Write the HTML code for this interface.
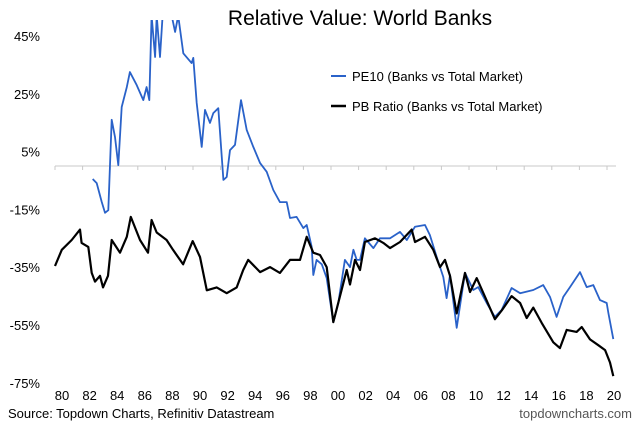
<!DOCTYPE html>
<html><head><meta charset="utf-8">
<style>
body{margin:0;background:#fff;}
svg{display:block;font-family:"Liberation Sans",Arial,sans-serif;}
</style></head>
<body>
<svg id="chart" width="640" height="433" viewBox="0 0 640 433">
  <defs><clipPath id="plotclip"><rect x="40" y="20" width="600" height="380"/></clipPath></defs>
  <text x="360" y="25" text-anchor="middle" font-size="21" fill="#000">Relative Value: World Banks</text>
  <g id="yaxis"></g>
  <g id="xaxis"></g>
  <g id="series" clip-path="url(#plotclip)"></g>
  <g>
    <g>
      <line x1="331" y1="76" x2="346" y2="76" stroke="#2a62c9" stroke-width="2"/>
      <text x="352" y="81" font-size="13" fill="#000">PE10 (Banks vs Total Market)</text>
    </g>
    <g>
      <line x1="331" y1="106" x2="346" y2="106" stroke="#000" stroke-width="2.5"/>
      <text x="352" y="111" font-size="13" fill="#000">PB Ratio (Banks vs Total Market)</text>
    </g>
  </g>
  <text x="8" y="418" font-size="13" fill="#000">Source: Topdown Charts, Refinitiv Datastream</text>
  <text x="632" y="418" text-anchor="end" font-size="13" fill="#555">topdowncharts.com</text>
</svg>
<script>
const yTicks = [45, 25, 5, -15, -35, -55, -75];
const xTickYears = [1980,1982,1984,1986,1988,1990,1992,1994,1996,1998,2000,2002,2004,2006,2008,2010,2012,2014,2016,2018,2020];
const xTickLabels = ["80","82","84","86","88","90","92","94","96","98","00","02","04","06","08","10","12","14","16","18","20"];

const pbYears = [1980.0,1980.49,1981.21,1981.81,1981.93,1982.41,1982.66,1982.9,1983.26,1983.48,1983.84,1984.11,1984.71,1985.2,1985.49,1986.16,1986.74,1987.0,1987.37,1988.09,1988.55,1989.28,1989.98,1990.51,1991.0,1991.72,1992.44,1993.17,1993.64,1994.0,1994.86,1995.58,1996.3,1997.03,1997.75,1998.24,1998.72,1999.2,1999.69,2000.17,2000.89,2001.14,2001.38,2001.74,2002.1,2002.46,2003.19,2003.79,2004.28,2005.0,2005.85,2006.09,2006.81,2007.41,2007.9,2008.26,2008.62,2009.11,2009.71,2010.07,2010.56,2011.04,2011.88,2012.37,2013.09,2013.7,2014.18,2014.66,2015.27,2016.11,2016.59,2017.08,2017.8,2018.17,2018.77,2019.37,2019.86,2020.22,2020.46];
const pbValues = [-34.6,-29,-25.6,-22,-26.6,-28,-37,-40,-38,-42,-38,-25.6,-30,-24.5,-17.6,-25.6,-30,-18.7,-23,-25.6,-29,-34,-26,-31.5,-43,-42,-44,-42,-36,-32.5,-36.7,-35,-37,-32.5,-32.5,-24.5,-30,-30.8,-35,-54,-40.6,-36,-41,-32.5,-36,-26.3,-25,-26.6,-28.4,-26.3,-22,-26.3,-24.5,-29,-35,-32.5,-38,-51,-37,-43.6,-38.8,-44,-53,-50,-45,-47.4,-52.6,-49,-54.3,-61,-63,-56.7,-57.4,-55.7,-60,-62,-63.7,-68,-72.7];

const peYears = [1982.73,1983.02,1983.38,1983.62,1983.86,1984.11,1984.35,1984.59,1984.83,1985.2,1985.43,1985.92,1986.4,1986.64,1986.83,1987.0,1987.25,1987.37,1987.61,1987.8,1988.46,1988.7,1988.93,1989.3,1989.9,1990.02,1990.27,1990.63,1990.87,1991.23,1991.47,1991.83,1992.2,1992.44,1992.68,1993.04,1993.48,1993.89,1994.37,1994.86,1995.34,1995.82,1996.3,1996.79,1997.03,1997.51,1997.99,1998.24,1998.6,1998.72,1998.96,1999.33,1999.69,2000.17,2000.53,2001.01,2001.38,2001.62,2001.86,2002.1,2002.46,2003.07,2003.55,2004.28,2005.0,2005.49,2006.09,2006.81,2007.17,2007.66,2008.14,2008.38,2008.62,2009.11,2009.71,2010.31,2010.67,2011.28,2011.88,2012.37,2013.09,2013.7,2014.66,2015.38,2015.87,2016.35,2016.83,2017.32,2018.04,2018.53,2019.01,2019.49,2019.98,2020.1,2020.46];
const peValues = [-4.5,-5.9,-12.3,-16.2,-15.3,16,10,0.3,20.4,27.3,32.5,28,22.8,27.3,22.8,52,37.7,52,37.7,52,52,46.4,52,39,35.6,37.4,21.8,6.6,19.4,14.9,18.3,20,-4.8,-3.8,5.5,7.3,22.8,12.5,6.6,1,-2,-8.3,-12.5,-12.5,-18,-17.6,-21.5,-20.4,-28,-37.7,-32.5,-34,-38.8,-54,-47.4,-32.5,-35,-29,-32.5,-32.5,-25,-28.4,-25,-25,-22.8,-25.6,-21,-20.4,-23.9,-31.5,-38.4,-45.7,-37.7,-56,-37,-42.9,-41.9,-47.4,-52.2,-49.8,-42.2,-44,-42.9,-41.2,-45.3,-52.2,-45.3,-41.9,-36.7,-41.9,-41.2,-46.4,-47.4,-50.9,-59.9];

const NS = "http://www.w3.org/2000/svg";
function xScale(yr){ return 55 + (yr - 1980) * 13.8; }
function yScale(v){ return 166 - v * 2.89; }
function mk(tag, attrs, parent){ const e=document.createElementNS(NS,tag); for(const k in attrs) e.setAttribute(k,attrs[k]); parent.appendChild(e); return e; }

const yAxis = document.getElementById('yaxis');
yTicks.forEach(t=>{
  const tx = mk('text',{x:40,y:yScale(t)+5,'text-anchor':'end','font-size':13,fill:'#000'},yAxis);
  tx.textContent = t + '%';
  
  
});

const xAxis = document.getElementById('xaxis');
const zl = mk('line',{x1:55,y1:yScale(0),x2:616,y2:yScale(0),stroke:'#c8c8c8','stroke-width':1},xAxis);


xTickYears.forEach((yr,i)=>{
  const tk = mk('line',{x1:xScale(yr),y1:yScale(0),x2:xScale(yr),y2:yScale(0)+4,stroke:'#c8c8c8','stroke-width':1},xAxis);
  
  
  const lb = mk('text',{x:xScale(yr)+7,y:400,'text-anchor':'middle','font-size':13,fill:'#000'},xAxis);
  lb.textContent = xTickLabels[i];
  
  
});

const series = document.getElementById('series');
function pathOf(xs, vs){ return xs.map((x,i)=>(i?'L':'M')+xScale(x).toFixed(1)+' '+yScale(vs[i]).toFixed(1)).join(' '); }
const pe = mk('path',{d:pathOf(peYears,peValues),fill:'none',stroke:'#2a62c9','stroke-width':1.8,'stroke-linejoin':'round'},series);


const pb = mk('path',{d:pathOf(pbYears,pbValues),fill:'none',stroke:'#000','stroke-width':2.2,'stroke-linejoin':'round'},series);


</script>
</body></html>
